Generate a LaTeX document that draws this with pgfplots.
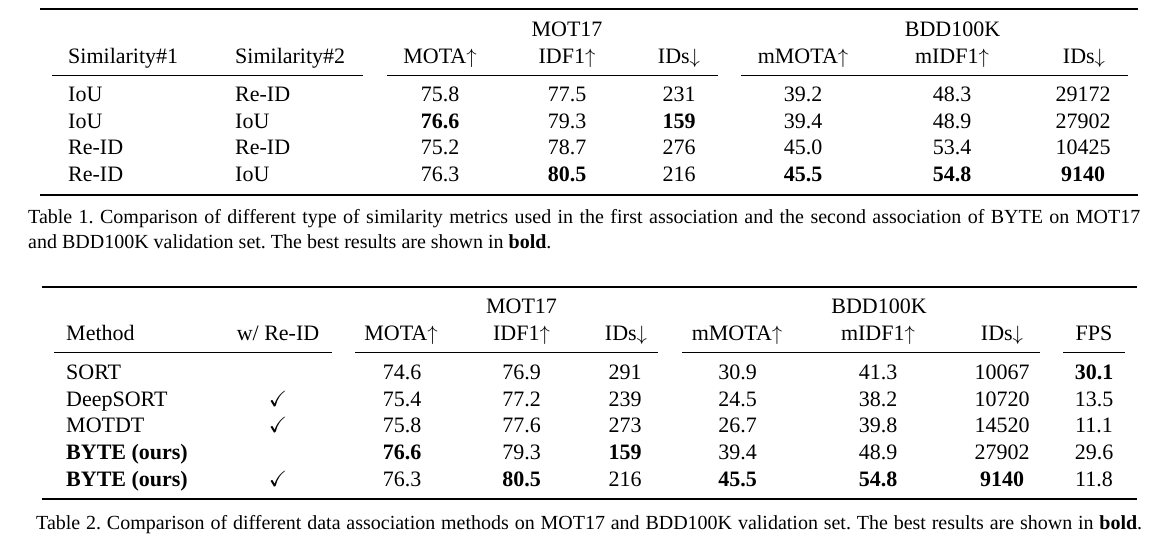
\documentclass[border=0pt]{standalone}
\usepackage{amssymb}
\usepackage{pgfplots}
\pgfplotsset{compat=1.18}
\usepackage{fontspec}
\setmainfont{Liberation Serif}
\frenchspacing
\newcommand\tf{\fontsize{22}{26}\selectfont}
\newcommand\cf{\fontsize{20}{24}\selectfont\frenchspacing}
\pgfplotsset{
  cell/.style={draw=none, mark=none, point meta=explicit symbolic,
    nodes near coords, nodes near coords align={anchor=base},
    every node near coord/.append style={inner sep=0pt, anchor=base, font=\tf}},
  bcell/.style={cell, every node near coord/.append style={font=\tf\bfseries}},
}
\tikzset{T/.style={anchor=base, inner sep=0pt, font=\tf},
         L/.style={anchor=base west, inner sep=0pt, font=\tf}}
\begin{document}
\begin{tikzpicture}
\begin{axis}[hide axis, scale only axis, width=1175pt, height=557pt,
  xmin=0, xmax=1175, ymin=0, ymax=557, y dir=reverse, clip=false]
\path (rel axis cs:0,0) rectangle (rel axis cs:1,1);
% ---------------- Table 1 ----------------
\draw[line width=1.6pt] (axis cs:40,9) -- (axis cs:1138,9);
\draw[line width=1.6pt] (axis cs:40,195) -- (axis cs:1138,195);
\draw[line width=1pt] (axis cs:52,75) -- (axis cs:363,75);
\draw[line width=1pt] (axis cs:387,75) -- (axis cs:718,75);
\draw[line width=1pt] (axis cs:741,75) -- (axis cs:1128,75);
\node[T] at (axis cs:567,36.7) {MOT17};
\node[T] at (axis cs:952.5,36.7) {BDD100K};
\node[L] at (axis cs:68,63.3) {Similarity\#1};
\node[L] at (axis cs:235,63.3) {Similarity\#2};
\node[T] at (axis cs:440,63.3) {MOTA$\uparrow$};
\node[T] at (axis cs:567,63.3) {IDF1$\uparrow$};
\node[T] at (axis cs:679,63.3) {IDs$\downarrow$};
\node[T] at (axis cs:803,63.3) {mMOTA$\uparrow$};
\node[T] at (axis cs:952,63.3) {mIDF1$\uparrow$};
\node[T] at (axis cs:1084,63.3) {IDs$\downarrow$};
\node[L] at (axis cs:68,101) {IoU};
\node[L] at (axis cs:235,101) {Re-ID};
\node[L] at (axis cs:68,128) {IoU};
\node[L] at (axis cs:235,128) {IoU};
\node[L] at (axis cs:68,154.5) {Re-ID};
\node[L] at (axis cs:235,154.5) {Re-ID};
\node[L] at (axis cs:68,181) {Re-ID};
\node[L] at (axis cs:235,181) {IoU};
\addplot[cell] coordinates {
 (440,101) [75.8] (440,154.5) [75.2] (440,181) [76.3]
 (567,101) [77.5] (567,128) [79.3] (567,154.5) [78.7]
 (679,101) [231] (679,154.5) [276] (679,181) [216]
 (803,101) [39.2] (803,128) [39.4] (803,154.5) [45.0]
 (952,101) [48.3] (952,128) [48.9] (952,154.5) [53.4]
 (1083,101) [29172] (1083,128) [27902] (1083,154.5) [10425]
};
\addplot[bcell] coordinates {
 (440,128) [76.6] (567,181) [80.5] (679,128) [159]
 (803,181) [45.5] (952,181) [54.8] (1083,181) [9140]
};
\node[anchor=base west, inner sep=0pt, font=\cf] at (axis cs:28,223)
 {\makebox[1112pt][s]{Table 1. Comparison of different type of similarity metrics used in the first association and the second association of BYTE on MOT17}};
\node[anchor=base west, inner sep=0pt, font=\cf] at (axis cs:28,248)
 {and BDD100K validation set. The best results are shown in \textbf{bold}.};
% ---------------- Table 2 ----------------
\draw[line width=1.6pt] (axis cs:42,286.7) -- (axis cs:1137,286.7);
\draw[line width=1.6pt] (axis cs:42,499) -- (axis cs:1137,499);
\draw[line width=1pt] (axis cs:54,352.7) -- (axis cs:332,352.7);
\draw[line width=1pt] (axis cs:355,352.7) -- (axis cs:658,352.7);
\draw[line width=1pt] (axis cs:682,352.7) -- (axis cs:1040,352.7);
\draw[line width=1pt] (axis cs:1063,352.7) -- (axis cs:1125,352.7);
\node[T] at (axis cs:521.5,313) {MOT17};
\node[T] at (axis cs:879,313) {BDD100K};
\node[L] at (axis cs:66,340.7) {Method};
\node[T] at (axis cs:278,340.7) {w/ Re-ID};
\node[T] at (axis cs:401,340.7) {MOTA$\uparrow$};
\node[T] at (axis cs:521.5,340.7) {IDF1$\uparrow$};
\node[T] at (axis cs:626,340.7) {IDs$\downarrow$};
\node[T] at (axis cs:737,340.7) {mMOTA$\uparrow$};
\node[T] at (axis cs:878,340.7) {mIDF1$\uparrow$};
\node[T] at (axis cs:1002,340.7) {IDs$\downarrow$};
\node[T] at (axis cs:1094,340.7) {FPS};
\node[L] at (axis cs:66,379.3) {SORT};
\node[L] at (axis cs:66,406) {DeepSORT};
\node[L] at (axis cs:66,432.7) {MOTDT};
\node[L, font=\tf\bfseries] at (axis cs:66,459.3) {BYTE (ours)};
\node[L, font=\tf\bfseries] at (axis cs:66,486) {BYTE (ours)};
\node[T] at (axis cs:278,406) {$\checkmark$};
\node[T] at (axis cs:278,432.7) {$\checkmark$};
\node[T] at (axis cs:278,486) {$\checkmark$};
\addplot[cell] coordinates {
 (402,379.3) [74.6] (402,406) [75.4] (402,432.7) [75.8] (402,486) [76.3]
 (521.5,379.3) [76.9] (521.5,406) [77.2] (521.5,432.7) [77.6] (521.5,459.3) [79.3]
 (625,379.3) [291] (625,406) [239] (625,432.7) [273] (625,486) [216]
 (737.5,379.3) [30.9] (737.5,406) [24.5] (737.5,432.7) [26.7] (737.5,459.3) [39.4]
 (878,379.3) [41.3] (878,406) [38.2] (878,432.7) [39.8] (878,459.3) [48.9]
 (1002,379.3) [10067] (1002,406) [10720] (1002,432.7) [14520] (1002,459.3) [27902]
 (1094,406) [13.5] (1094,432.7) [11.1] (1094,459.3) [29.6] (1094,486) [11.8]
};
\addplot[bcell] coordinates {
 (402,459.3) [76.6] (521.5,486) [80.5] (625,459.3) [159]
 (737.5,486) [45.5] (878,486) [54.8] (1002,486) [9140] (1094,379.3) [30.1]
};
\node[anchor=base west, inner sep=0pt, font=\cf] at (axis cs:36,529)
 {\makebox[1106pt][s]{Table 2. Comparison of different data association methods on MOT17 and BDD100K validation set. The best results are shown in \textbf{bold}.}};
\end{axis}
\end{tikzpicture}
\end{document}
